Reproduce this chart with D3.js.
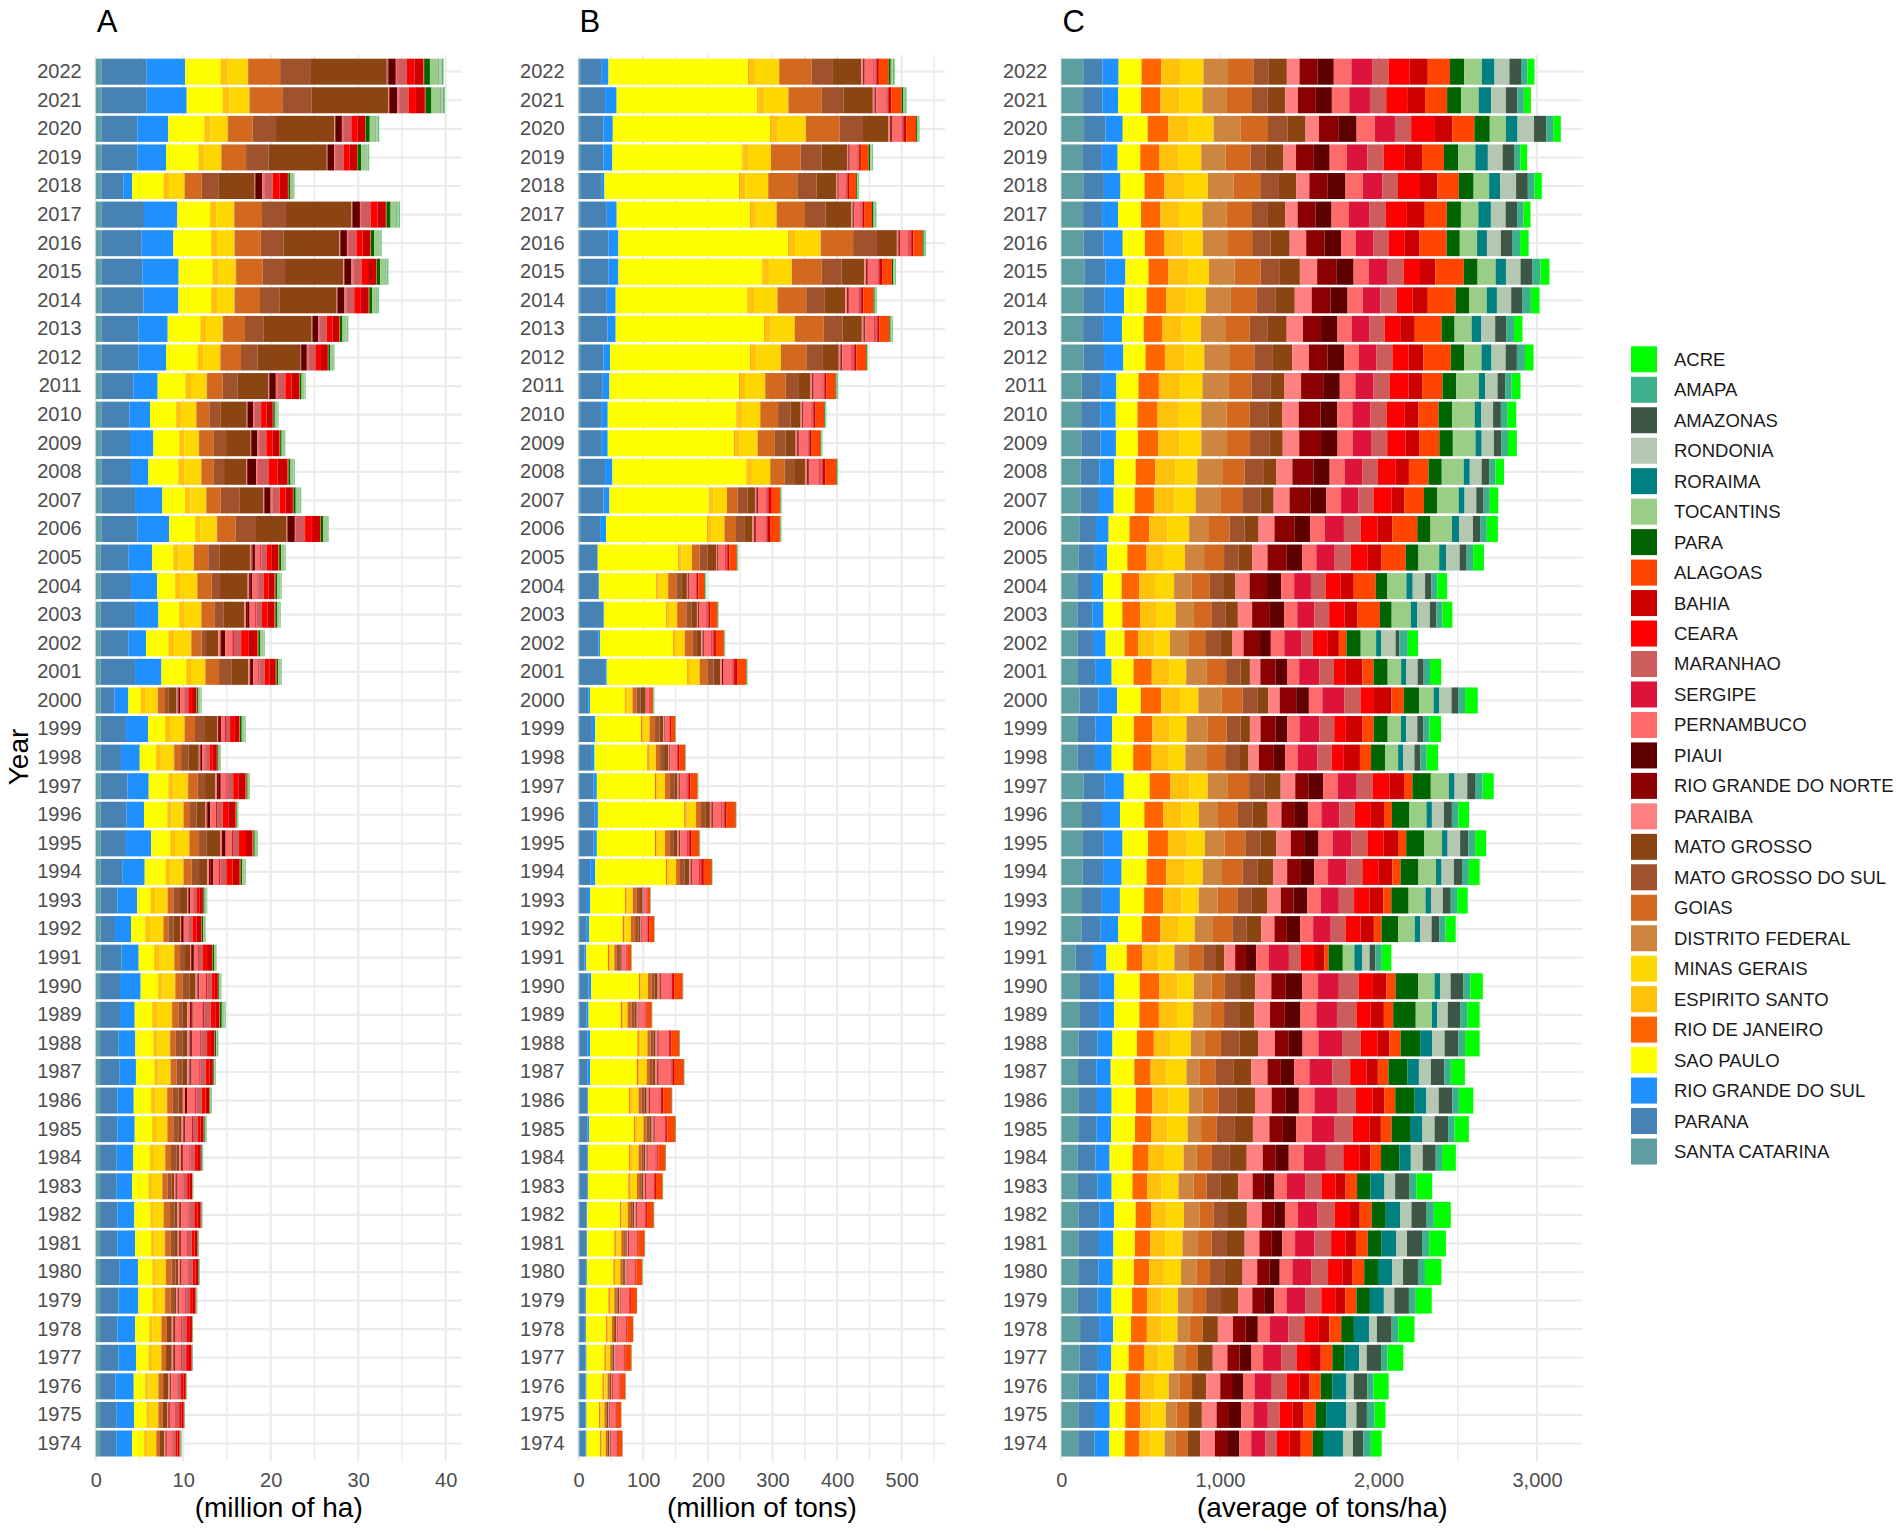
<!DOCTYPE html>
<html lang="en">
<head>
<meta charset="UTF-8" />
<title>Area, production and yield by state, 1974-2022</title>
<script src="https://d3js.org/d3.v7.min.js"></script>
<style>
  body { margin: 0; background: #fff; font-family: "Liberation Sans", Arial, sans-serif; }
  .tick text { fill: #4D4D4D; font-size: 20px; font-family: "Liberation Sans", Arial, sans-serif; }
</style>
</head>
<body>
<svg id="chart" width="1902" height="1531"></svg>
<script>
// stacking order (left to right); the legend lists them in reverse
const states = ["SANTA CATARINA","PARANA","RIO GRANDE DO SUL","SAO PAULO","RIO DE JANEIRO","ESPIRITO SANTO",
  "MINAS GERAIS","DISTRITO FEDERAL","GOIAS","MATO GROSSO DO SUL","MATO GROSSO","PARAIBA","RIO GRANDE DO NORTE",
  "PIAUI","PERNAMBUCO","SERGIPE","MARANHAO","CEARA","BAHIA","ALAGOAS","PARA","TOCANTINS","RORAIMA","RONDONIA",
  "AMAZONAS","AMAPA","ACRE"];
const stateColors = ["#5F9EA0","#4682B4","#1E90FF","#FFFF00","#FF6600","#FFC10A","#FFD700","#CD853F","#D2691E",
  "#A0522D","#8B4513","#FF8080","#8B0000","#5E0000","#FF6A6A","#DC143C","#CD5C5C","#FF0000","#CD0000","#FF4500",
  "#006400","#9ACD85","#008080","#B3C7B1","#3E5645","#3CB08C","#00FF00"];
const years = [1974,1975,1976,1977,1978,1979,1980,1981,1982,1983,1984,1985,1986,1987,1988,1989,1990,1991,1992,
  1993,1994,1995,1996,1997,1998,1999,2000,2001,2002,2003,2004,2005,2006,2007,2008,2009,2010,2011,2012,2013,2014,
  2015,2016,2017,2018,2019,2020,2021,2022];
const areaTicks = [0,10,20,30,40];
const productionTicks = [0,100,200,300,400,500];
const yieldTicks = [0,1000,2000,3000];

// one row per year, values in the order of `states` (million ha)
const areaByYear = [
[.5,1.86,1.79,1.37,.02,.34,1.01,.05,.41,0,.49,.14,.07,.07,.54,.09,.36,.25,.23,.04,.06,0,.01,.08,.02,.01,.02],
[.5,1.90,1.98,1.45,.02,.33,.95,.05,.48,0,.49,.16,.08,.08,.58,.10,.39,.27,.25,.04,.03,0,.01,.04,.01,.01,.01],
[.5,1.75,2.10,1.30,.02,.37,1.10,.05,.52,0,.61,.16,.08,.08,.61,.10,.40,.28,.26,.04,.03,0,.01,.04,.01,.01,.01],
[.5,2.09,2.02,1.45,.02,.35,1.04,.05,.52,0,.65,.19,.09,.09,.70,.12,.46,.32,.30,.05,.03,0,.01,.04,.01,.01,.01],
[.5,1.98,2.02,1.60,.02,.34,1.01,.05,.60,0,.57,.19,.09,.09,.71,.12,.47,.33,.31,.05,.02,0,0,.03,.01,.01,.01],
[.5,2.09,2.29,1.64,.02,.34,1.01,.05,.64,.38,.23,.18,.09,.09,.68,.11,.45,.32,.29,.05,.05,0,.01,.06,.02,.01,.01],
[.5,2.20,2.13,1.64,.02,.38,1.12,.05,.64,.46,.30,.19,.09,.09,.70,.12,.46,.32,.30,.05,.05,0,.01,.06,.02,.01,.01],
[.5,1.98,2.02,1.83,.02,.39,1.15,.05,.60,.53,.30,.18,.09,.09,.69,.11,.46,.32,.30,.05,.05,0,.01,.06,.02,.01,.01],
[.5,1.98,1.94,1.83,.02,.37,1.10,.05,.71,.50,.34,.22,.11,.11,.81,.14,.54,.38,.35,.05,.05,0,.01,.06,.02,.01,.01],
[.5,1.90,1.75,1.87,.02,.39,1.15,.05,.60,.46,.27,.17,.08,.08,.63,.11,.42,.29,.27,.04,.03,0,.01,.04,.01,.01,.01],
[.5,1.90,1.90,1.90,.02,.43,1.26,.05,.64,.65,.30,.20,.10,.10,.75,.13,.50,.35,.33,.05,.07,0,.01,.09,.02,.01,.02],
[.5,1.98,1.98,1.98,.02,.43,1.26,.05,.67,.57,.38,.20,.10,.10,.77,.13,.51,.36,.33,.05,.09,0,.02,.12,.03,.01,.03],
[.5,1.98,1.87,1.98,.02,.45,1.32,.05,.64,.65,.50,.24,.12,.12,.92,.15,.61,.43,.40,.06,.08,0,.01,.11,.03,.01,.03],
[.5,2.20,1.90,2.10,.02,.46,1.35,.05,.67,.69,.53,.24,.12,.12,.89,.15,.59,.42,.39,.06,.08,0,.01,.11,.03,.01,.03],
[.5,2.13,1.90,2.06,.02,.47,1.38,.05,.64,.80,.53,.25,.13,.13,.95,.16,.63,.44,.41,.06,.11,0,.02,.15,.04,.02,.04],
[.5,2.28,1.68,1.98,.02,.56,1.67,.05,.71,.50,.53,.30,.15,.15,1.12,.19,.75,.52,.48,.07,.20,.29,.02,.10,.02,.01,.02],
[.5,2.28,2.36,1.98,.02,.49,1.43,.05,.83,.76,.72,.21,.10,.10,.78,.13,.52,.36,.34,.05,.11,.17,.01,.06,.01,0,.01],
[.55,2.42,1.94,1.75,.02,.57,1.70,.05,.64,.57,.57,.13,.10,.21,.47,.10,.47,.47,.57,.08,.14,.21,.01,.07,.01,0,.01],
[.55,1.66,1.83,1.64,.02,.51,1.49,.05,.56,.57,.76,.12,.10,.20,.45,.10,.45,.45,.55,.07,.14,.21,.01,.07,.01,0,.01],
[.55,1.93,2.25,1.56,.02,.48,1.40,.05,.64,.76,.84,.09,.07,.15,.33,.07,.33,.33,.40,.05,.14,.21,.01,.07,.01,0,.01],
[.55,2.54,2.51,2.40,.02,.51,1.49,.05,.90,.84,.95,.19,.15,.30,.69,.15,.69,.69,.84,.11,.17,.26,.02,.09,.02,.01,.02],
[.55,2.92,2.86,2.17,.02,.54,1.61,.05,1.09,.88,1.52,.19,.15,.30,.69,.15,.69,.69,.84,.11,.15,.23,.02,.07,.02,0,.02],
[.55,2.99,1.98,2.67,.02,.46,1.35,.05,.71,.76,.95,.18,.14,.28,.64,.14,.64,.64,.78,.11,.08,.12,.01,.04,.01,0,.01],
[.55,3.07,2.44,2.25,.02,.55,1.64,.05,1.09,.84,1.18,.18,.14,.29,.64,.14,.64,.64,.79,.11,.11,.17,.01,.06,.01,0,.01],
[.55,2.35,2.13,1.87,.02,.51,1.49,.05,.79,.84,1.18,.11,.09,.17,.38,.09,.38,.38,.47,.06,.13,.19,.01,.06,.01,0,.01],
[.55,2.92,2.51,1.94,.02,.55,1.64,.05,1.17,1.14,1.37,.13,.11,.21,.47,.11,.47,.47,.58,.08,.20,.29,.02,.10,.02,.01,.02],
[.55,1.58,1.60,1.41,.02,.49,1.43,.05,.79,.38,.95,.12,.09,.19,.42,.09,.42,.42,.52,.07,.15,.23,.02,.07,.02,0,.02],
[.55,3.95,3.01,2.82,.02,.54,1.61,.05,1.55,1.45,1.90,.16,.13,.26,.58,.13,.58,.58,.71,.10,.17,.26,.02,.09,.02,.01,.02],
[.55,3.18,2.02,2.55,.02,.65,1.92,.05,1.17,.50,1.41,.23,.18,.37,.82,.18,.82,.82,1.01,.14,.23,.34,.02,.11,.02,.01,.02],
[.55,3.95,2.67,2.36,.02,.63,1.86,.05,1.47,1.03,2.40,.18,.14,.28,.64,.14,.64,.64,.78,.11,.18,.27,.02,.09,.02,.01,.02],
[.55,3.49,2.97,2.06,.02,.63,1.86,.05,1.63,.95,3.16,.16,.13,.25,.57,.13,.57,.57,.70,.09,.22,.32,.02,.11,.02,.01,.02],
[.55,3.22,2.70,2.40,.02,.58,1.72,.05,1.63,1.26,3.50,.17,.13,.27,.60,.13,.60,.60,.74,.10,.23,.34,.02,.11,.02,.01,.02],
[.65,4.11,3.62,2.97,.02,.62,1.84,.05,2.12,2.32,3.50,.08,.08,.78,.16,.08,.93,.78,.93,.08,.26,.40,.03,.13,.03,.01,.03],
[.65,3.85,3.12,2.59,.02,.60,1.78,.05,1.63,2.13,2.74,.07,.07,.69,.14,.07,.82,.69,.82,.07,.26,.40,.03,.13,.03,.01,.03],
[.65,3.39,1.98,3.43,.02,.65,1.92,.05,1.36,1.22,2.51,.10,.10,.97,.19,.10,1.16,.97,1.16,.10,.23,.34,.02,.11,.02,.01,.02],
[.65,3.27,2.67,2.97,.02,.55,1.64,.05,1.63,1.45,2.74,.07,.07,.69,.14,.07,.82,.69,.82,.07,.17,.26,.02,.09,.02,.01,.02],
[.65,3.20,2.36,2.97,.02,.57,1.70,.05,1.47,1.30,2.97,.06,.06,.61,.12,.06,.73,.61,.73,.06,.17,.26,.02,.09,.02,.01,.02],
[.65,3.65,2.78,3.20,.02,.60,1.78,.05,1.78,1.68,3.54,.07,.07,.72,.14,.07,.87,.72,.87,.07,.20,.29,.02,.10,.02,.01,.02],
[.65,4.23,3.16,3.62,.02,.64,1.89,.05,2.35,1.87,4.88,.06,.06,.65,.13,.06,.78,.65,.78,.06,.21,.31,.02,.10,.02,.01,.02],
[.65,4.23,3.35,3.73,.02,.64,1.89,.05,2.50,2.10,5.52,.06,.06,.65,.13,.06,.78,.65,.78,.06,.29,.43,.03,.14,.03,.01,.03],
[.65,4.80,4.00,3.73,.02,.67,1.98,.05,2.88,2.21,6.55,.07,.07,.75,.15,.07,.90,.75,.90,.07,.34,.51,.03,.17,.03,.01,.03],
[.65,4.68,4.15,3.85,.02,.67,1.98,.05,3.04,2.55,6.67,.08,.08,.76,.15,.08,.91,.76,.91,.08,.40,.60,.04,.20,.04,.01,.04],
[.65,4.61,3.62,4.30,.02,.67,1.98,.05,2.96,2.59,6.40,.07,.07,.72,.14,.07,.87,.72,.87,.07,.37,.55,.04,.18,.04,.01,.04],
[.65,4.87,3.81,3.73,.02,.69,2.03,.05,3.15,2.74,7.50,.08,.08,.80,.16,.08,.96,.80,.96,.08,.46,.68,.05,.23,.05,.02,.05],
[.65,2.51,.99,3.62,.02,.59,1.75,.05,1.93,1.90,4.08,.08,.08,.79,.16,.08,.95,.79,.95,.08,.20,.29,.02,.10,.02,.01,.02],
[.65,4.11,3.28,3.70,.02,.65,1.92,.05,2.81,2.55,6.67,.07,.07,.71,.14,.07,.85,.71,.85,.07,.39,.59,.04,.20,.04,.01,.04],
[.65,4.11,3.54,4.11,.02,.67,1.98,.05,2.81,2.67,6.67,.07,.07,.72,.14,.07,.86,.72,.86,.07,.46,.68,.05,.23,.05,.02,.05],
[.65,5.18,4.57,4.11,.02,.76,2.27,.05,3.72,3.35,8.76,.09,.09,.85,.17,.09,1.02,.85,1.02,.09,.66,.99,.07,.33,.07,.02,.07],
[.65,5.18,4.38,4.08,.02,.77,2.30,.05,3.65,3.43,8.76,.09,.09,.85,.17,.09,1.02,.85,1.02,.09,.66,.99,.07,.33,.07,.02,.07]
];

// million tons
const productionByYear = [
[1.5,9.3,1.5,21.1,2.0,1.3,5.4,.2,2.9,0,2.5,1.6,.8,.2,7.6,.6,.6,.8,1.0,6.8,.22,0,.02,.1,.09,.02,.06],
[1.5,9.3,1.5,19.5,2.0,1.2,5.0,.2,3.4,0,2.5,1.6,.8,.2,7.4,.6,.6,.8,1.0,6.6,.22,0,.02,.1,.09,.02,.06],
[1.5,9.3,1.5,24.7,2.0,1.1,4.6,.2,2.9,0,2.5,1.8,.9,.2,8.4,.7,.7,.9,1.1,7.5,.22,0,.02,.1,.09,.02,.06],
[1.5,9.3,1.5,27.8,2.0,1.3,5.4,.2,3.4,0,3.0,2.1,1.0,.3,10.0,.8,.8,1.0,1.3,8.9,.22,0,.02,.1,.09,.02,.06],
[1.5,8.3,1.5,31.4,2.0,1.3,5.4,.2,3.4,0,3.0,2.1,1.0,.3,10.0,.8,.8,1.0,1.3,8.9,.22,0,.02,.1,.09,.02,.06],
[1.5,8.3,1.5,35.0,2.0,1.3,5.4,.2,3.9,1.5,2.1,2.2,1.1,.3,10.4,.8,.8,1.1,1.4,9.3,.22,0,.02,.1,.09,.02,.06],
[1.5,9.8,1.5,41.2,2.0,1.7,6.6,.2,3.9,2.1,2.1,2.0,1.0,.3,9.6,.8,.8,1.0,1.3,8.6,.45,0,.03,.2,.17,.03,.12],
[1.5,10.3,1.5,42.2,2.0,1.7,6.6,.2,4.4,2.1,2.1,2.2,1.1,.3,10.4,.8,.8,1.1,1.4,9.3,.45,0,.03,.2,.17,.03,.12],
[1.5,10.3,1.5,50.9,2.0,2.0,7.8,.2,4.9,2.6,2.6,2.4,1.2,.3,11.3,.9,.9,1.2,1.5,10.1,.45,0,.03,.2,.17,.03,.12],
[1.5,11.4,1.5,62.8,2.0,2.2,8.7,.2,4.9,2.6,2.6,2.3,1.2,.3,11.1,.9,.9,1.2,1.5,10.0,.45,0,.03,.2,.17,.03,.12],
[1.5,11.4,1.5,63.8,2.0,2.5,9.9,.2,4.9,2.6,2.6,2.5,1.3,.3,11.9,.9,.9,1.3,1.6,10.7,.45,0,.03,.2,.17,.03,.12],
[1.5,12.4,2.6,69.4,2.0,2.5,9.9,.2,4.9,4.1,3.6,2.9,1.5,.4,13.9,1.1,1.1,1.5,1.8,12.4,.45,0,.03,.2,.17,.03,.12],
[1.5,11.4,1.5,63.8,2.0,2.5,9.9,.2,4.9,4.1,3.6,3.1,1.5,.4,14.7,1.2,1.2,1.5,1.9,13.1,.45,0,.03,.2,.17,.03,.12],
[1.5,12.4,4.1,72.0,2.0,2.7,10.7,.2,4.9,4.1,3.6,3.6,1.8,.4,17.0,1.3,1.3,1.8,2.2,15.2,.45,0,.03,.2,.17,.03,.12],
[1.5,12.4,4.1,73.0,2.0,2.7,10.7,.2,4.9,4.1,3.6,2.9,1.5,.4,13.9,1.1,1.1,1.5,1.8,12.4,.45,0,.03,.2,.17,.03,.12],
[1.5,10.3,3.6,49.9,2.0,1.7,6.6,.2,6.5,4.1,3.6,1.8,.9,.2,8.8,.7,.7,.9,1.2,7.9,.35,.30,.02,.15,.08,.02,.08],
[1.5,13.9,4.1,74.1,2.0,2.3,9.1,.2,6.0,4.1,5.1,3.1,1.5,.4,14.7,1.2,1.2,1.5,1.9,13.1,.35,.30,.02,.15,.08,.02,.08],
[2.0,7.3,2.6,33.4,2.0,1.6,6.2,.2,3.9,3.6,2.6,1.0,.6,.3,5.1,.6,.8,.6,1.3,5.6,.35,.30,.02,.15,.08,.02,.08],
[2.0,9.8,4.6,52.0,2.0,2.1,8.2,.2,6.5,5.1,2.6,1.3,.9,.4,6.9,.9,1.1,.9,1.7,7.6,.35,.30,.02,.15,.08,.02,.08],
[2.0,10.9,5.1,54.0,2.0,2.0,7.8,.2,6.0,5.1,4.1,.7,.5,.2,3.6,.5,.6,.5,.9,4.0,.35,.30,.02,.15,.08,.02,.08],
[2.0,16.0,7.7,109.6,2.0,2.7,10.7,.2,6.0,6.7,7.7,2.1,1.4,.7,11.0,1.4,1.7,1.4,2.8,12.1,.53,.45,.03,.22,.12,.03,.12],
[2.0,21.1,5.1,90.0,2.0,2.7,10.7,.2,7.5,6.2,5.7,2.0,1.3,.7,10.7,1.3,1.7,1.3,2.7,11.7,.53,.45,.03,.22,.12,.03,.12],
[2.0,22.2,5.7,133.7,2.0,3.2,12.8,.2,7.5,7.7,6.2,2.4,1.6,.8,12.7,1.6,2.0,1.6,3.2,13.9,.53,.45,.03,.22,.12,.03,.12],
[2.0,21.1,5.1,90.0,2.0,2.7,10.7,.2,7.5,6.7,5.1,1.9,1.2,.6,9.9,1.2,1.5,1.2,2.5,10.8,.53,.45,.03,.22,.12,.03,.12],
[2.0,18.6,4.1,81.8,2.0,2.2,8.7,.2,6.5,6.2,6.7,1.5,1.0,.5,8.2,1.0,1.3,1.0,2.1,9.0,.53,.45,.03,.22,.12,.03,.12],
[2.0,18.6,5.1,71.0,2.0,2.2,8.7,.2,8.5,6.7,6.2,1.1,.7,.4,5.8,.7,.9,.7,1.4,6.3,.53,.45,.03,.22,.12,.03,.12],
[2.0,13.4,2.6,54.0,1.0,2.1,8.2,.2,6.5,6.2,6.7,.7,.5,.2,3.8,.5,.6,.5,.9,4.1,.91,.78,.05,.39,.21,.05,.21],
[2.0,39.0,2.6,124.1,1.0,3.7,14.8,.2,12.6,8.7,10.8,2.4,1.6,.8,12.6,1.6,2.0,1.6,3.2,13.8,.91,.78,.05,.39,.21,.05,.21],
[2.0,28.8,2.6,112.8,1.0,3.4,13.5,.2,12.6,6.2,6.7,2.1,1.4,.7,11.2,1.4,1.7,1.4,2.8,12.2,.74,.63,.04,.31,.17,.04,.17],
[2.0,36.5,1.0,96.4,1.0,3.1,12.3,.2,14.2,7.7,8.7,1.9,1.3,.6,10.0,1.3,1.6,1.3,2.5,11.0,.74,.63,.04,.31,.17,.04,.17],
[2.0,28.8,1.0,88.7,1.0,3.4,13.5,.2,12.6,7.7,8.7,1.6,1.1,.5,8.7,1.1,1.4,1.1,2.2,9.5,.91,.78,.05,.39,.21,.05,.21],
[2.0,27.2,.5,124.1,1.0,4.1,16.4,.2,11.6,12.8,12.8,1.9,1.3,.6,10.2,1.3,1.6,1.3,2.5,11.1,.91,.78,.05,.39,.21,.05,.21],
[2.5,30.8,9.2,156.4,1.0,5.1,20.6,.2,17.7,12.8,12.8,2.5,1.3,1.3,13.5,1.3,2.5,1.3,3.4,15.2,.91,.78,.05,.39,.21,.05,.21],
[2.5,36.0,9.2,154.9,1.0,5.1,20.6,.2,16.7,15.4,11.3,2.3,1.2,1.2,12.3,1.2,2.3,1.2,3.1,13.9,.91,.78,.05,.39,.21,.05,.21],
[2.5,38.5,11.3,207.7,1.0,7.1,28.3,.2,22.4,15.9,15.4,2.9,1.5,1.5,15.6,1.5,2.9,1.5,3.9,17.5,.91,.78,.05,.39,.21,.05,.21],
[2.5,33.4,9.2,195.9,1.0,7.0,27.9,.2,26.5,16.9,15.4,2.3,1.2,1.2,12.3,1.2,2.3,1.2,3.1,13.9,.91,.78,.05,.39,.21,.05,.21],
[2.5,33.4,9.2,199.5,1.0,7.1,28.3,.2,27.5,19.5,15.4,2.2,1.1,1.1,11.5,1.1,2.2,1.1,2.9,12.9,1.26,1.08,.07,.54,.29,.07,.29],
[2.5,34.9,10.3,201.0,1.0,7.8,31.2,.2,31.6,20.5,17.9,2.3,1.2,1.2,12.3,1.2,2.3,1.2,3.1,13.9,1.44,1.23,.08,.62,.33,.08,.33],
[2.5,36.0,10.3,216.4,1.0,9.3,37.4,.2,39.3,24.6,25.6,2.6,1.3,1.3,13.6,1.3,2.6,1.3,3.4,15.3,.91,.78,.05,.39,.21,.05,.21],
[2.5,42.1,12.8,229.7,1.0,9.2,37.0,.2,44.9,29.2,29.7,2.6,1.3,1.3,13.6,1.3,2.6,1.3,3.4,15.3,1.79,1.53,.10,.77,.41,.10,.41],
[2.5,41.1,13.8,204.1,1.0,9.0,36.2,.2,44.4,28.7,31.8,2.6,1.3,1.3,14.0,1.3,2.6,1.3,3.5,15.7,1.79,1.53,.10,.77,.41,.10,.41],
[2.5,43.7,15.4,223.1,1.0,8.8,35.3,.2,46.0,30.8,35.4,2.6,1.3,1.3,13.6,1.3,2.6,1.3,3.4,15.3,2.17,1.86,.12,.93,.50,.12,.50],
[2.5,43.7,15.4,262.6,1.0,9.9,39.4,.2,50.1,36.9,30.8,2.4,1.2,1.2,12.6,1.2,2.4,1.2,3.2,14.2,1.96,1.68,.11,.84,.45,.11,.45],
[2.5,41.1,15.4,206.2,1.0,8.0,32.0,.2,43.9,31.8,40.0,1.9,1.0,1.0,10.2,1.0,1.9,1.0,2.5,11.4,2.35,2.01,.13,1.0,.54,.13,.54],
[2.5,33.4,4.1,208.7,1.0,8.7,34.9,.2,44.9,29.7,30.8,1.8,.9,.9,9.9,.9,1.8,.9,2.5,11.1,1.61,1.38,.09,.69,.37,.09,.37],
[2.5,36.0,13.8,201.5,1.0,8.5,34.1,.2,46.0,32.3,39.5,2.0,1.0,1.0,10.7,1.0,2.0,1.0,2.7,12.0,2.35,2.01,.13,1.0,.54,.13,.54],
[2.5,36.0,14.4,243.6,1.0,10.8,43.1,.2,52.1,36.4,39.5,2.6,1.3,1.3,13.6,1.3,2.6,1.3,3.4,15.3,1.79,1.53,.10,.77,.41,.10,.41],
[2.5,38.5,17.9,217.9,1.0,9.3,37.4,.2,51.1,34.4,45.1,2.7,1.3,1.3,14.3,1.3,2.7,1.3,3.6,16.1,2.70,2.31,.15,1.16,.62,.15,.62],
[2.5,33.4,10.3,216.4,1.0,9.3,37.4,.2,50.1,31.8,45.1,2.5,1.3,1.3,13.5,1.3,2.5,1.3,3.4,15.2,3.22,2.76,.18,1.38,.74,.18,.74]
];

// average yield per state (as labelled, tons/ha), stacked
const yieldByYear = [
[106,104,92,97,94,68,90,68,77,0,80,92,77,77,75,90,73,80,70,75,65,0,126,63,65,48,68],
[107,105,93,98,95,69,91,69,78,0,81,93,78,78,76,91,74,81,71,76,66,0,127,64,66,48,69],
[109,111,81,104,93,86,93,70,77,0,90,88,74,72,70,109,93,81,65,70,74,0,88,46,86,39,95],
[114,116,85,109,97,90,97,73,80,0,94,92,77,75,73,114,97,85,68,73,77,0,92,48,90,41,99],
[118,120,88,113,100,93,100,75,83,0,97,95,80,77,75,118,100,88,70,75,80,0,95,50,93,42,102],
[103,125,88,130,94,90,106,94,83,88,113,90,75,63,78,118,101,88,63,71,85,0,88,66,92,43,101],
[106,128,90,133,97,92,109,97,85,90,116,92,77,65,80,121,104,90,65,73,87,0,90,68,94,44,104],
[107,130,91,135,98,93,110,98,86,91,117,93,78,66,81,122,105,91,66,74,88,0,91,69,95,45,105],
[109,131,92,136,99,94,112,99,87,92,119,94,79,67,82,124,107,92,67,75,89,0,92,70,96,45,107],
[104,124,89,131,95,89,107,95,82,87,112,91,74,64,79,117,100,89,64,72,84,0,89,67,91,43,100],
[103,112,89,145,101,97,124,82,96,110,110,101,82,82,94,140,110,101,71,66,117,0,71,75,82,40,87],
[106,116,92,150,104,100,128,85,99,114,114,104,85,85,97,145,114,104,73,68,121,0,73,77,85,41,90],
[107,117,93,152,105,101,130,86,100,115,115,105,86,86,98,147,115,105,74,69,122,0,74,78,86,41,91],
[105,115,91,149,103,99,127,84,98,113,113,103,84,84,96,144,113,103,72,67,120,0,72,76,84,41,89],
[109,119,94,154,107,103,131,87,102,117,117,107,87,87,100,149,117,107,75,70,124,0,75,79,87,42,92],
[117,121,95,159,123,114,102,112,83,95,95,100,90,102,100,130,123,90,83,59,142,102,33,67,78,45,78],
[117,121,96,160,124,114,103,112,84,96,96,101,91,103,101,131,124,91,84,59,143,103,34,67,79,45,79],
[90,109,85,128,97,102,102,92,90,80,53,68,68,65,80,126,73,85,65,27,90,73,48,48,36,41,60],
[126,122,111,148,117,111,106,115,122,89,93,84,78,84,82,111,93,95,84,48,106,104,33,73,48,40,64],
[130,125,114,153,121,114,109,119,125,91,96,87,80,87,85,114,96,98,87,50,109,107,34,75,50,41,66],
[134,129,117,157,124,117,113,122,129,94,99,89,82,89,87,117,99,101,89,51,113,111,35,78,51,43,68],
[136,131,119,160,126,119,114,124,131,96,100,91,84,91,89,119,100,102,91,52,114,112,35,79,52,43,69],
[130,126,114,153,121,114,110,119,126,92,96,87,80,87,85,114,96,98,87,50,110,108,34,76,50,42,66],
[139,134,121,163,129,121,116,127,134,97,102,92,85,92,90,121,102,104,92,53,116,114,36,80,53,44,70],
[103,109,105,136,116,108,105,131,120,88,59,66,94,72,77,125,92,72,105,70,88,83,33,70,37,40,72],
[104,110,106,137,117,109,106,132,121,88,59,67,95,73,78,126,93,73,106,70,88,84,33,70,37,40,73],
[114,121,116,150,128,119,116,145,133,97,65,73,104,80,85,138,102,80,116,77,97,92,36,77,41,44,80],
[105,108,104,138,115,110,107,130,122,90,60,66,96,72,77,127,92,74,105,71,89,85,33,71,38,40,71],
[102,97,80,119,85,104,97,121,102,99,70,73,104,68,85,109,70,92,73,48,90,97,31,92,24,53,65],
[101,94,71,118,112,101,123,112,117,85,79,90,112,90,83,107,94,96,83,141,74,121,41,79,41,38,63],
[100,93,70,117,110,100,121,110,115,84,78,89,110,89,82,106,93,95,82,139,73,120,40,78,40,37,62],
[109,102,77,128,121,109,133,121,126,92,85,97,121,97,90,116,102,104,90,152,80,131,44,85,44,41,68],
[113,105,80,132,125,113,138,125,130,95,88,100,125,100,93,120,105,108,93,157,83,135,45,88,45,42,70],
[121,116,93,132,123,128,134,155,139,116,82,100,132,100,93,109,98,111,82,123,82,137,37,74,46,39,54],
[122,118,94,134,124,129,136,157,141,118,83,101,134,101,94,111,99,113,83,124,83,139,38,75,47,40,54],
[126,121,97,138,128,133,140,162,145,121,85,104,138,104,97,114,102,116,85,128,85,143,39,77,48,41,56],
[125,120,98,137,127,134,141,160,146,120,86,103,137,105,96,115,101,115,86,127,86,142,40,76,49,40,57],
[127,122,98,139,129,134,141,163,146,122,86,105,139,105,98,115,103,117,86,129,86,144,39,78,48,41,56],
[140,129,122,140,122,124,124,157,159,117,122,105,117,105,94,110,101,101,94,173,84,110,63,89,71,51,54],
[137,126,119,137,119,121,121,153,155,114,119,103,114,103,92,108,98,98,92,169,82,108,61,87,69,50,53],
[142,130,123,142,123,125,125,159,161,119,123,107,119,107,95,112,102,102,95,175,85,112,64,90,72,52,55],
[145,133,126,145,126,128,128,162,164,121,126,109,121,109,97,114,104,104,97,179,87,114,65,92,73,53,56],
[139,127,121,139,121,122,122,155,157,116,121,104,116,104,93,109,100,100,93,171,83,109,62,88,70,51,54],
[137,120,101,144,122,118,147,154,159,96,113,79,113,101,110,130,103,132,113,139,89,110,79,93,72,41,44],
[138,130,105,151,126,123,151,163,167,118,110,82,116,112,110,123,98,139,110,135,93,98,70,100,74,42,46],
[136,119,100,143,121,117,146,153,158,96,112,79,112,100,109,129,102,131,112,138,89,109,79,93,72,40,43],
[143,135,109,157,131,128,157,169,174,123,114,85,121,116,114,128,102,145,114,140,97,102,73,104,77,44,48],
[137,121,101,143,123,118,147,154,158,97,113,80,113,101,110,130,103,132,113,139,89,110,79,93,72,41,44],
[138,121,102,145,123,119,148,155,160,97,114,80,114,102,111,131,104,133,114,140,90,111,80,94,73,41,44]
];

const svg = d3.select("#chart");
const font = '"Liberation Sans", Arial, sans-serif';
const gridColor = "#EBEBEB";
const plotTop = 57.4, plotBottom = 1457.8, gridTop = 55, gridBottom = 1461;

const y = d3.scaleBand()
  .domain(years.slice().reverse())
  .range([plotTop, plotBottom])
  .paddingInner(0.09)
  .paddingOuter(0.045);

const panels = [
  { title: "A", rows: areaByYear, left: 95.7, right: 461.7, max: 41.83, ticks: areaTicks, step: 5,
    label: "(million of ha)", format: d3.format("d") },
  { title: "B", rows: productionByYear, left: 578.6, right: 945, max: 567, ticks: productionTicks, step: 50,
    label: "(million of tons)", format: d3.format("d") },
  { title: "C", rows: yieldByYear, left: 1061.4, right: 1583, max: 3290, ticks: yieldTicks, step: 500,
    label: "(average of tons/ha)", format: d3.format(",") }
];

panels.forEach(p => {
  const x = d3.scaleLinear().domain([0, p.max]).range([p.left, p.right]);
  const g = svg.append("g");

  // grid: minor + major verticals, one horizontal per year
  const grid = g.append("g");
  grid.selectAll("line.v")
    .data(d3.range(0, p.max, p.step))
    .join("line")
      .attr("class", "v")
      .attr("x1", d => x(d)).attr("x2", d => x(d))
      .attr("y1", gridTop).attr("y2", gridBottom)
      .attr("stroke", gridColor)
      .attr("stroke-width", d => p.ticks.includes(d) ? 2.2 : 1.5);
  grid.selectAll("line.h")
    .data(years)
    .join("line")
      .attr("class", "h")
      .attr("x1", p.left).attr("x2", p.right)
      .attr("y1", d => y(d) + y.bandwidth() / 2)
      .attr("y2", d => y(d) + y.bandwidth() / 2)
      .attr("stroke", gridColor)
      .attr("stroke-width", 2.2);

  // stacked bars
  const table = years.map((yr, i) => ({ year: yr, values: p.rows[i] }));
  const series = d3.stack()
    .keys(d3.range(states.length))
    .value((d, k) => d.values[k])(table);

  g.append("g")
    .selectAll("g")
    .data(series)
    .join("g")
      .attr("fill", s => stateColors[s.key])
    .selectAll("rect")
    .data(s => s)
    .join("rect")
      .attr("x", d => x(d[0]))
      .attr("width", d => Math.max(0, x(d[1]) - x(d[0])))
      .attr("y", d => y(d.data.year))
      .attr("height", y.bandwidth());

  // axes
  g.append("g")
    .attr("transform", "translate(0,1473)")
    .call(d3.axisBottom(x).tickValues(p.ticks).tickFormat(p.format).tickSize(0).tickPadding(0))
    .call(a => a.select(".domain").remove());

  g.append("g")
    .attr("transform", `translate(${p.left},0)`)
    .call(d3.axisLeft(y).tickSize(0).tickPadding(14))
    .call(a => a.select(".domain").remove());

  // titles
  g.append("text")
    .attr("x", p.left + 1).attr("y", 32)
    .attr("font-family", font).attr("font-size", 31).attr("fill", "#000")
    .text(p.title);

  g.append("text")
    .attr("x", (p.left + p.right) / 2).attr("y", 1517)
    .attr("text-anchor", "middle")
    .attr("font-family", font).attr("font-size", 28).attr("fill", "#000")
    .text(p.label);
});

svg.append("text")
  .attr("transform", "translate(28,757) rotate(-90)")
  .attr("text-anchor", "middle")
  .attr("font-family", font).attr("font-size", 28).attr("fill", "#000")
  .text("Year");

// legend, last stacked state on top
const legendOrder = d3.range(states.length).reverse();
const legend = svg.append("g").attr("transform", "translate(1631,346.3)");
const item = legend.selectAll("g")
  .data(legendOrder)
  .join("g")
    .attr("transform", (d, i) => `translate(0,${i * 30.47})`);
item.append("rect")
  .attr("width", 26).attr("height", 26)
  .attr("fill", d => stateColors[d]);
item.append("text")
  .attr("x", 43).attr("y", 13).attr("dy", "0.35em")
  .attr("font-family", font).attr("font-size", 18.5).attr("fill", "#1A1A1A")
  .text(d => states[d]);
</script>
</body>
</html>
